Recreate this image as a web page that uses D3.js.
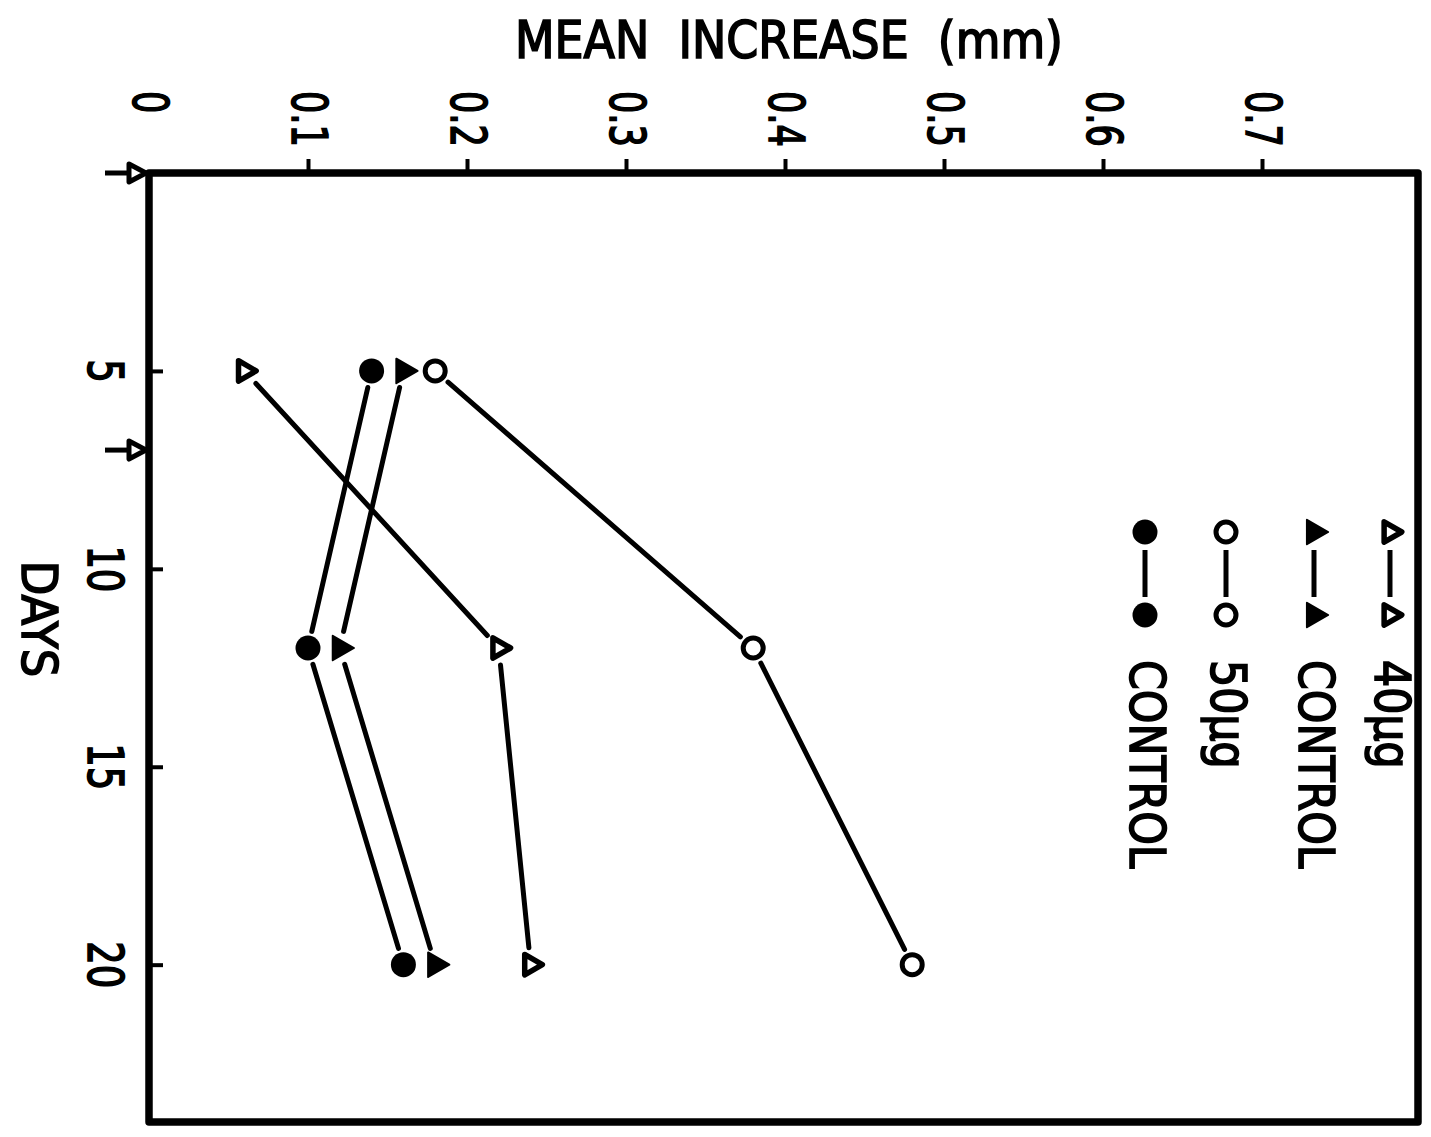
<!DOCTYPE html>
<html>
<head>
<meta charset="utf-8">
<script src="https://cdn.jsdelivr.net/npm/d3@7"></script>
<style>
  body { margin: 0; background: #fff; }
  svg { display: block; }
  text { font-family: "DejaVu Sans Condensed", "Liberation Sans Narrow", "Open Sans", sans-serif; fill: #000; stroke: #000; stroke-width: 1.6px; }
</style>
</head>
<body>
<div id="chart"></div>
<script>
//==================== DATA ====================

const days = [5, 12, 20]
const dose40 = [0.06, 0.22, 0.24]
const control40 = [0.16, 0.12, 0.18]
const dose50 = [0.18, 0.38, 0.48]
const control50 = [0.14, 0.10, 0.16]

const seriesNames = ['40\u03bcg', 'CONTROL', '50\u03bcg', 'CONTROL']
const seriesMarkers = ['triOpen', 'triFilled', 'circleOpen', 'circleFilled']

const increaseTicks = [0, 0.1, 0.2, 0.3, 0.4, 0.5, 0.6, 0.7]
const increaseLabels = ['0', '0.1', '0.2', '0.3', '0.4', '0.5', '0.6', '0.7']
const dayTicks = [5, 10, 15, 20]
const arrowDays = [0, 7]

//==================== STRUCTURE ====================

const width = 1431
const height = 1137

const x = d3.scaleLinear().domain([0, 0.8]).range([149, 1421])
const y = d3.scaleLinear().domain([0, 24]).range([173, 1123])

const svg = d3.select('#chart')
  .append('svg')
  .attr('width', width)
  .attr('height', height)

// frame
svg.append('rect')
  .attr('x', x(0))
  .attr('y', y(0))
  .attr('width', x(0.8) - x(0) - 3)
  .attr('height', y(24) - y(0) - 1)
  .attr('fill', 'none')
  .attr('stroke', '#000')
  .attr('stroke-width', 7.5)
  .attr('stroke-linejoin', 'round')

// top axis (mean increase), ticks point outward
const topAxis = svg.append('g')
  .attr('transform', `translate(0,${y(0)})`)
  .call(d3.axisTop(x).tickValues(increaseTicks.slice(1)).tickSize(14).tickFormat(''))
topAxis.select('.domain').remove()
topAxis.selectAll('line').attr('stroke', '#000').attr('stroke-width', 4)

svg.append('g')
  .selectAll('text')
  .data(increaseTicks)
  .enter()
  .append('text')
  .attr('transform', d => `translate(${x(d) + 2},91) rotate(90) scale(0.78,1)`)
  .attr('dy', '0.36em')
  .attr('font-size', 50)
  .text((d, i) => increaseLabels[i])

// left axis (days), ticks point inward
const leftAxis = svg.append('g')
  .attr('transform', `translate(${x(0)},0)`)
  .call(d3.axisRight(y).tickValues(dayTicks).tickSize(14).tickFormat(''))
leftAxis.select('.domain').remove()
leftAxis.selectAll('line').attr('stroke', '#000').attr('stroke-width', 4)

svg.append('g')
  .selectAll('text')
  .data(dayTicks)
  .enter()
  .append('text')
  .attr('transform', d => `translate(106,${y(d)}) rotate(90) scale(0.82,1)`)
  .attr('text-anchor', 'middle')
  .attr('dy', '0.36em')
  .attr('font-size', 50)
  .text(d => d)

// arrows on the day axis
const arrows = svg.append('g')
arrowDays.forEach(d => {
  arrows.append('line')
    .attr('x1', 105).attr('x2', 130)
    .attr('y1', y(d)).attr('y2', y(d))
    .attr('stroke', '#000').attr('stroke-width', 5)
  arrows.append('path')
    .attr('d', `M${x(0) - 20},${y(d) - 9}L${x(0) - 3},${y(d)}L${x(0) - 20},${y(d) + 9}Z`)
    .attr('fill', '#fff').attr('stroke', '#000').attr('stroke-width', 5)
    .attr('stroke-linejoin', 'round')
})

// titles
svg.append('text')
  .attr('x', 789)
  .attr('y', 58)
  .attr('text-anchor', 'middle')
  .attr('font-size', 51)
  .style('white-space', 'pre')
  .text('MEAN  INCREASE  (mm)')

svg.append('text')
  .attr('transform', `translate(40,619) rotate(90)`)
  .attr('text-anchor', 'middle')
  .attr('dy', '0.36em')
  .attr('font-size', 50)
  .text('DAYS')

//==================== MARKS ====================

const drawMarker = (g, type, px, py) => {
  if (type === 'triOpen') {
    g.append('path')
      .attr('d', d3.symbol(d3.symbolTriangle, 180)())
      .attr('transform', `translate(${px},${py}) rotate(90)`)
      .attr('fill', '#fff').attr('stroke', '#000').attr('stroke-width', 5.5)
      .attr('stroke-linejoin', 'round')
  } else if (type === 'triFilled') {
    g.append('path')
      .attr('d', d3.symbol(d3.symbolTriangle, 260)())
      .attr('transform', `translate(${px},${py}) rotate(90)`)
      .attr('fill', '#000').attr('stroke', '#000').attr('stroke-width', 2)
      .attr('stroke-linejoin', 'round')
  } else if (type === 'circleOpen') {
    g.append('circle')
      .attr('cx', px).attr('cy', py).attr('r', 10)
      .attr('fill', '#fff').attr('stroke', '#000').attr('stroke-width', 5)
  } else {
    g.append('circle')
      .attr('cx', px).attr('cy', py).attr('r', 12.5)
      .attr('fill', '#000')
  }
}

// line between two points with a small gap at each marker
const gapSegment = (g, x1, y1, x2, y2, gap) => {
  const dx = x2 - x1, dy = y2 - y1
  const len = Math.sqrt(dx * dx + dy * dy)
  const ux = dx / len, uy = dy / len
  g.append('line')
    .attr('x1', x1 + ux * gap).attr('y1', y1 + uy * gap)
    .attr('x2', x2 - ux * gap).attr('y2', y2 - uy * gap)
    .attr('stroke', '#000').attr('stroke-width', 5)
    .attr('stroke-linecap', 'round')
}

const allSeries = [dose40, control40, dose50, control50]
const marks = svg.append('g').attr('class', 'marks')

allSeries.forEach((values, s) => {
  const g = marks.append('g')
  for (let i = 0; i < values.length - 1; i++) {
    gapSegment(g, x(values[i]), y(days[i]), x(values[i + 1]), y(days[i + 1]), 17)
  }
  values.forEach((v, i) => drawMarker(g, seriesMarkers[s], x(v), y(days[i])))
})

//==================== LEGEND ====================

const legendCols = [1390, 1314, 1226, 1145]
const legendTop = 532
const legendBottom = 615
const legend = svg.append('g').attr('class', 'legend')

seriesNames.forEach((name, s) => {
  const cx = legendCols[s]
  legend.append('line')
    .attr('x1', cx).attr('x2', cx)
    .attr('y1', legendTop + 18).attr('y2', legendBottom - 18)
    .attr('stroke', '#000').attr('stroke-width', 5)
  drawMarker(legend, seriesMarkers[s], cx, legendTop)
  drawMarker(legend, seriesMarkers[s], cx, legendBottom)
  legend.append('text')
    .attr('transform', `translate(${cx + 3},660) rotate(90) scale(0.95,1)`)
    .attr('dy', '0.36em')
    .attr('font-size', 50)
    .text(name)
})
</script>
</body>
</html>
